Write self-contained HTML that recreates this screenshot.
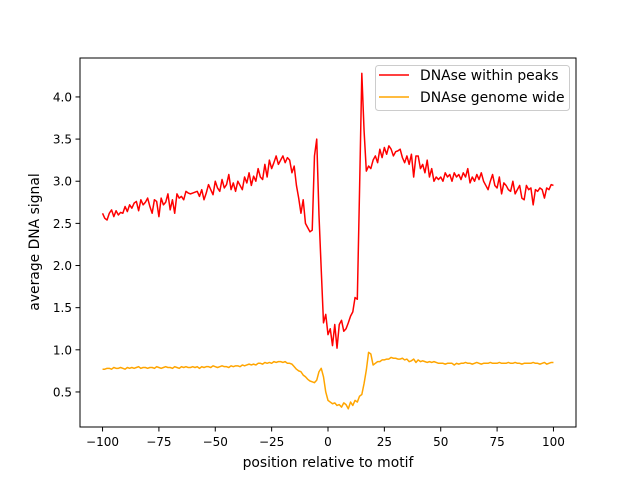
<!DOCTYPE html>
<html><head><meta charset="utf-8"><style>
body{margin:0;background:#fff}
svg{display:block;font-family:"DejaVu Sans","Liberation Sans",sans-serif}
</style></head><body>
<svg id="chart" width="640" height="480">
<rect x="0" y="0" width="640" height="480" fill="#fff"/>
<g id="plot"></g>
<rect x="80" y="58" width="496" height="369" fill="none" stroke="#000" stroke-width="1"/>
<g id="xt"></g>
<g id="yt"></g>
<text x="328" y="467" font-size="13.9" text-anchor="middle">position relative to motif</text>
<text transform="translate(39,242) rotate(-90)" font-size="13.9" text-anchor="middle">average DNA signal</text>
<g>
<rect x="375.5" y="65.5" width="194" height="45" rx="3" fill="#fff" fill-opacity="0.8" stroke="#ccc"/>
<line x1="379" y1="75" x2="409" y2="75" stroke="red" stroke-width="1.5"/>
<text x="420" y="80" font-size="13.9">DNAse within peaks</text>
<line x1="379" y1="97" x2="409" y2="97" stroke="orange" stroke-width="1.5"/>
<text x="420" y="102" font-size="13.9">DNAse genome wide</text>
</g>
</svg>
<script>
const xTicks=[-100,-75,-50,-25,0,25,50,75,100];
const yTicks=[0.5,1.0,1.5,2.0,2.5,3.0,3.5,4.0];
const yTickLabels=["0.5","1.0","1.5","2.0","2.5","3.0","3.5","4.0"];
const peaks=[2.62,2.56,2.54,2.62,2.66,2.58,2.65,2.60,2.63,2.62,2.70,2.64,2.72,2.68,2.74,2.76,2.65,2.78,2.72,2.75,
2.80,2.70,2.62,2.78,2.76,2.58,2.80,2.72,2.75,2.85,2.66,2.78,2.62,2.85,2.80,2.82,2.78,2.88,2.86,2.85,
2.86,2.87,2.88,2.82,2.90,2.78,2.86,2.96,2.90,2.84,3.00,2.92,2.88,3.02,2.92,2.96,3.08,2.90,2.98,2.88,
3.00,2.95,2.90,3.05,2.98,3.10,2.95,3.06,3.00,3.15,3.05,3.02,3.20,3.05,3.25,3.15,3.22,3.30,3.20,3.25,
3.30,3.22,3.28,3.25,3.10,3.18,2.95,2.80,2.62,2.78,2.50,2.45,2.40,2.42,3.30,3.50,2.60,1.95,1.32,1.42,
1.18,1.25,1.05,1.30,1.02,1.30,1.35,1.22,1.25,1.32,1.40,1.45,1.62,1.60,2.90,4.28,3.60,3.12,3.18,3.15,
3.25,3.30,3.22,3.38,3.28,3.40,3.32,3.42,3.38,3.30,3.35,3.36,3.38,3.28,3.22,3.30,3.20,3.32,3.05,3.30,
3.30,3.15,3.20,3.10,3.25,3.05,3.15,3.00,3.05,3.02,3.05,3.00,3.10,3.05,3.08,3.00,3.10,3.05,3.08,3.02,
3.10,3.05,3.15,2.98,3.05,3.00,3.08,3.02,3.10,3.00,2.95,2.90,3.00,3.08,2.95,2.92,3.05,2.85,2.98,2.95,
2.90,2.88,3.00,2.85,2.90,2.95,2.80,2.78,2.95,2.90,2.92,2.72,2.90,2.88,2.92,2.90,2.80,2.92,2.90,2.96,2.95];
const genome=[0.77,0.77,0.78,0.78,0.77,0.79,0.78,0.78,0.79,0.78,0.77,0.79,0.78,0.79,0.78,0.79,0.80,0.78,0.79,0.79,
0.78,0.79,0.79,0.78,0.80,0.79,0.78,0.79,0.80,0.79,0.79,0.78,0.80,0.79,0.78,0.80,0.79,0.80,0.79,0.79,
0.80,0.79,0.80,0.78,0.80,0.79,0.80,0.80,0.79,0.81,0.80,0.79,0.80,0.81,0.80,0.80,0.79,0.81,0.80,0.81,
0.81,0.80,0.82,0.81,0.82,0.83,0.82,0.83,0.82,0.84,0.84,0.83,0.85,0.84,0.85,0.84,0.86,0.85,0.86,0.86,
0.85,0.86,0.84,0.84,0.83,0.80,0.77,0.75,0.74,0.70,0.68,0.65,0.63,0.62,0.61,0.64,0.74,0.78,0.68,0.50,
0.40,0.38,0.36,0.37,0.34,0.35,0.32,0.37,0.35,0.30,0.38,0.34,0.40,0.38,0.45,0.47,0.60,0.76,0.97,0.95,
0.82,0.84,0.86,0.86,0.88,0.88,0.89,0.89,0.91,0.90,0.90,0.89,0.89,0.90,0.88,0.89,0.86,0.87,0.89,0.85,
0.88,0.86,0.87,0.86,0.85,0.86,0.85,0.86,0.85,0.84,0.84,0.84,0.83,0.84,0.84,0.84,0.82,0.84,0.83,0.84,
0.84,0.85,0.84,0.84,0.83,0.84,0.85,0.84,0.83,0.84,0.84,0.84,0.85,0.84,0.84,0.84,0.85,0.84,0.84,0.84,
0.85,0.84,0.84,0.85,0.84,0.84,0.83,0.84,0.84,0.84,0.84,0.85,0.84,0.84,0.83,0.84,0.85,0.83,0.84,0.85,0.85];
const NS="http://www.w3.org/2000/svg";
const xs=v=>80+(v+110)/220*496;
const ys=v=>434.1-v*84.29;
function el(tag,attrs,parent){const e=document.createElementNS(NS,tag);for(const k in attrs)e.setAttribute(k,attrs[k]);parent.appendChild(e);return e;}
const plot=document.getElementById('plot'),xt=document.getElementById('xt'),yt=document.getElementById('yt');
function line(arr,color,name){
  const pts=arr.map((v,i)=>xs(-100+i).toFixed(2)+','+ys(v).toFixed(2)).join(' ');
  const p=el('polyline',{points:pts,fill:'none',stroke:color,'stroke-width':1.5,'stroke-linejoin':'round'},plot);
  
  
}
line(genome,'orange','series-genome-wide');
line(peaks,'red','series-within-peaks');
xTicks.forEach(t=>{
  const x=xs(t);
  const l=el('line',{x1:x,y1:427,x2:x,y2:431.5,stroke:'#000'},xt);
  
  
  const tx=el('text',{x:x,y:446,'font-size':12,'text-anchor':'middle'},xt);
  tx.textContent=(t<0?'\u2212'+(-t):String(t));
  
  
});
yTicks.forEach((t,i)=>{
  const y=ys(t);
  const l=el('line',{x1:75.5,y1:y,x2:80,y2:y,stroke:'#000'},yt);
  
  
  const tx=el('text',{x:72,y:y+4.5,'font-size':12,'text-anchor':'end'},yt);
  tx.textContent=yTickLabels[i];
  
  
});
</script>
</body></html>
